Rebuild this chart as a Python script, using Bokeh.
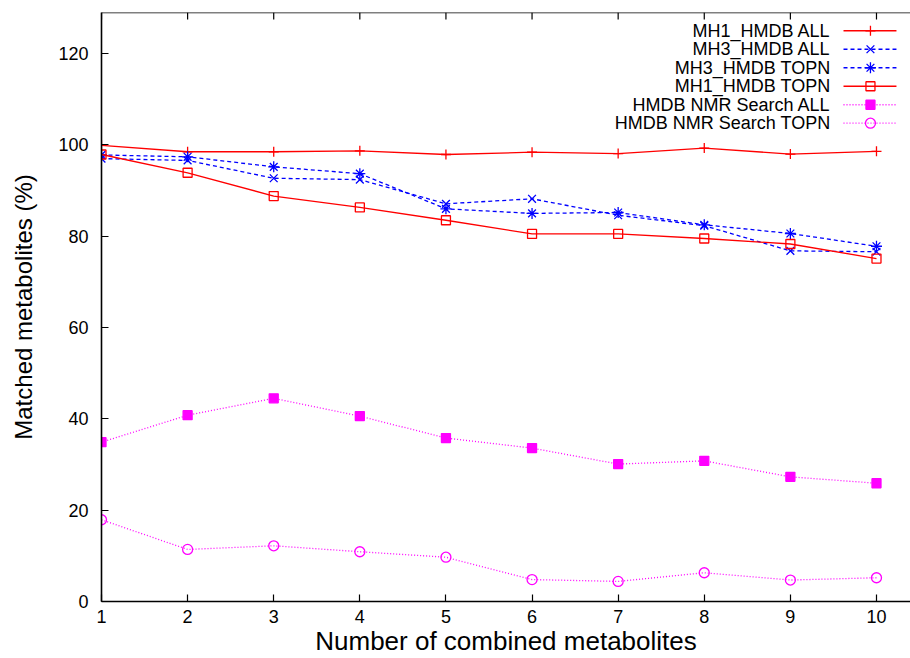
from bokeh.plotting import figure
from bokeh.models import Range1d, FixedTicker, Span
from bokeh.embed import file_html
from bokeh.resources import INLINE
from bokeh.core.properties import value

# ---------------- data ----------------
n_combined = [1, 2, 3, 4, 5, 6, 7, 8, 9, 10]
mh1_hmdb_all = [99.9, 98.5, 98.5, 98.7, 97.9, 98.4, 98.1, 99.3, 98.0, 98.6]
mh3_hmdb_all = [97.0, 96.6, 92.7, 92.4, 87.1, 88.2, 84.6, 82.3, 76.8, 76.6]
mh3_hmdb_topn = [97.8, 97.4, 95.2, 93.7, 86.0, 85.0, 85.2, 82.5, 80.6, 77.8]
mh1_hmdb_topn = [97.9, 93.9, 88.8, 86.3, 83.5, 80.5, 80.5, 79.5, 78.3, 75.1]
nmr_search_all = [34.9, 40.8, 44.5, 40.6, 35.8, 33.6, 30.1, 30.8, 27.3, 25.9]
nmr_search_topn = [17.9, 11.4, 12.2, 10.9, 9.7, 4.8, 4.4, 6.3, 4.7, 5.2]

series_names = ["MH1_HMDB ALL", "MH3_HMDB ALL", "MH3_HMDB TOPN",
                "MH1_HMDB TOPN", "HMDB NMR Search ALL", "HMDB NMR Search TOPN"]
series_values = [mh1_hmdb_all, mh3_hmdb_all, mh3_hmdb_topn,
                 mh1_hmdb_topn, nmr_search_all, nmr_search_topn]
x_ticks = [1, 2, 3, 4, 5, 6, 7, 8, 9, 10]
y_ticks = [0, 20, 40, 60, 80, 100, 120]
Y_MAX = 129
X_MAX = 10.395

# ---------------- styles ----------------
RED, BLUE, MAG = "#ff0000", "#0000ff", "#ff00ff"
styles = [
    dict(color=RED, dash="solid", marker="cross", size=10, fill=False),
    dict(color=BLUE, dash="4 3", marker="x", size=11, fill=False),
    dict(color=BLUE, dash="4 3", marker="asterisk", size=11, fill=False),
    dict(color=RED, dash="solid", marker="square", size=9, fill=False),
    dict(color=MAG, dash="1 2", marker="square", size=9, fill=True),
    dict(color=MAG, dash="1 2", marker="circle", size=10, fill=False),
]
FONT = "Liberation Sans"

p = figure(width=910, height=658,
           x_range=Range1d(1, X_MAX), y_range=Range1d(0, Y_MAX),
           output_backend="svg", toolbar_location=None,
           min_border_left=101, min_border_right=0,
           min_border_top=12, min_border_bottom=0)
p.grid.visible = False
p.outline_line_color = None
p.background_fill_color = "white"
p.border_fill_color = "white"

# axes
xa = p.xaxis[0]
xa.ticker = FixedTicker(ticks=x_ticks)
ya = p.yaxis[0]
ya.ticker = FixedTicker(ticks=y_ticks)
for ax in (xa, ya):
    ax.major_tick_in = 7
    ax.major_tick_out = 0
    ax.minor_tick_line_color = None
    ax.axis_line_color = "black"
    ax.axis_line_width = 1.6
    ax.major_tick_line_color = "black"
    ax.major_tick_line_width = 1.2
    ax.major_label_text_font = FONT
    ax.major_label_text_font_size = "18px"
    ax.major_label_text_color = "black"
    ax.axis_label_text_font = FONT
    ax.axis_label_text_font_style = "normal"
    ax.axis_label_text_color = "black"
xa.axis_label = "Number of combined metabolites"
ya.axis_label = "Matched metabolites (%)"
xa.axis_label_text_font_size = "26px"
ya.axis_label_text_font_size = "24px"
xa.major_label_standoff = 8
xa.axis_label_standoff = 0
ya.major_label_standoff = 13
ya.axis_label_standoff = 18

# top border with inward mirror ticks
p.add_layout(Span(location=Y_MAX, dimension="width", line_color="black",
                  line_width=1.6))
tick_len = 7 * Y_MAX / 590.0
p.segment(x0=x_ticks, y0=[Y_MAX] * len(x_ticks), x1=x_ticks,
          y1=[Y_MAX - tick_len] * len(x_ticks), line_color="black",
          line_width=1.2)

# series
for vals, st in zip(series_values, styles):
    p.line(n_combined, vals, line_color=st["color"], line_dash=st["dash"],
           line_width=1.3)
    p.scatter(n_combined, vals, marker=st["marker"], size=st["size"],
              line_color=st["color"], line_width=1.3,
              fill_color=st["color"] if st["fill"] else None)

# legend (gnuplot style: text right-aligned, sample to the right)
leg_text_x = 9.466
leg_x0, leg_x1, leg_mx = 9.617, 10.232, 9.930
leg_y0, leg_dy = 125.0, 4.05
leg_ys = [leg_y0 - i * leg_dy for i in range(len(series_names))]
p.text(x=[leg_text_x] * len(series_names), y=leg_ys, text=series_names,
       text_align="right", text_baseline="middle",
       text_font=value(FONT), text_font_size="18px", text_color="black")
for ly, st in zip(leg_ys, styles):
    p.line([leg_x0, leg_x1], [ly, ly], line_color=st["color"],
           line_dash=st["dash"], line_width=1.3)
    p.scatter([leg_mx], [ly], marker=st["marker"], size=st["size"],
              line_color=st["color"], line_width=1.3,
              fill_color=st["color"] if st["fill"] else None)

open("out.html", "w").write(file_html(p, INLINE))
